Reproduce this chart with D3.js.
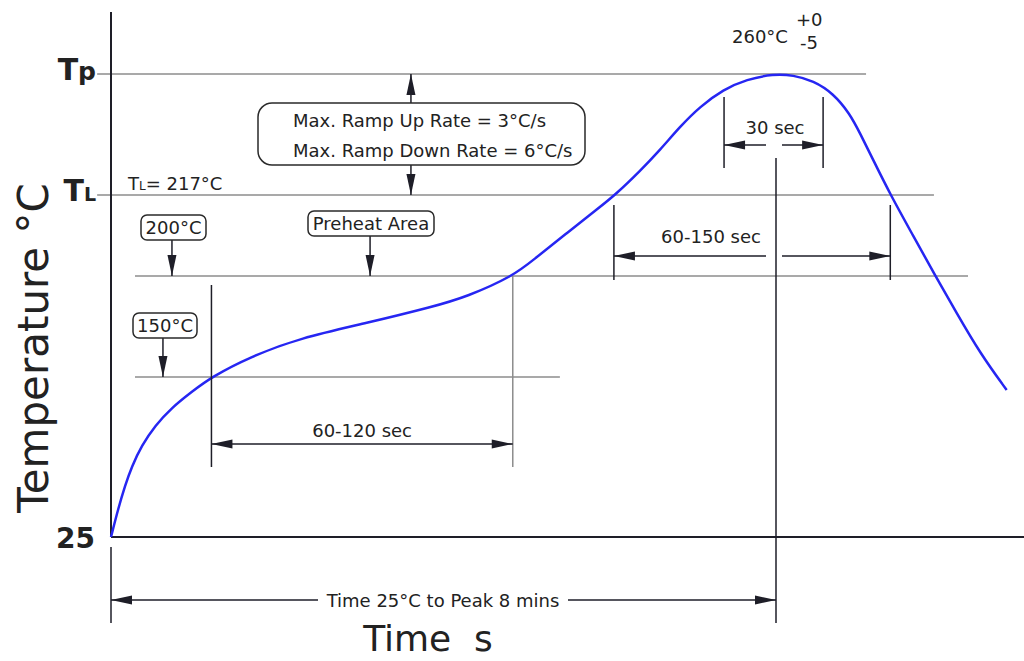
<!DOCTYPE html>
<html lang="en">
<head>
<meta charset="UTF-8">
<title>Reflow Profile</title>
<script src="https://d3js.org/d3.v7.min.js"></script>
<style>
  body { margin: 0; background: #fff; }
  svg text { font-family: "DejaVu Sans", sans-serif; fill: #222; }
  .guide { stroke: #8c8c8c; stroke-width: 1.5; fill: none; }
  .dim { stroke: #1e1e28; stroke-width: 1.5; fill: none; }
  .axis-line { stroke: #1e1e28; stroke-width: 2; }
  .note-box { fill: #fff; stroke: #2a2a2a; stroke-width: 1.5; }
  .note { font-size: 18px; }
</style>
</head>
<body>
<svg id="chart"></svg>
<script>
// profile curve: time (s) and temperature (°C)
const profileTime = [0, 5.3, 10.1, 14.9, 22.2, 31.8, 43.8, 58.2, 72.5, 100.4, 136.5, 184.6, 232.5, 256.8, 290.3,
    304.9, 329, 353, 363.8, 381.8, 396.3, 410.7, 425.1, 442, 458.9, 478.1, 492.5, 506.9, 521.4, 533.4, 540.6, 550.2,
    562.7, 579.1, 594.7, 610.4, 627.2, 646.5];
const profileTemp = [25, 47.5, 65, 79.8, 96.5, 112, 126, 138.4, 150, 160, 169.3, 176.7, 184.8, 189.7, 200,
    203.4, 209, 214.5, 217, 225.5, 233, 241.3, 248.4, 254.5, 258.1, 260, 259.6, 257.6, 253.1, 245.8, 239, 229.4,
    217, 208.4, 200.2, 181.7, 161.9, 139.8];

// temperature levels of the drawing (not to scale)
const levelTemps = [25, 150, 200, 217, 260];

// time marks (s)
const soakSpan = [72.5, 290];        // 150 -> 200 °C, 60-120 sec
const liquidusSpan = [363, 562.5];   // above TL, 60-150 sec
const peakSpan = [442.5, 514];       // within 5 °C of peak, 30 sec
const peakTime = 480;                // 8 mins from 25 °C

const width = 1024, height = 661;

const svg = d3.select("#chart")
    .attr("width", width)
    .attr("height", height);

const x = d3.scaleLinear().domain([0, peakTime]).range([111, 776]);
// piecewise scale, the levels are drawn as a sketch
const y = d3.scaleLinear().domain(levelTemps).range([537, 377, 276, 195, 74]);

const defs = svg.append("defs");
defs.append("marker")
    .attr("id", "head")
    .attr("viewBox", "-22 -5 23 10")
    .attr("refX", 0).attr("refY", 0)
    .attr("markerWidth", 23).attr("markerHeight", 10)
    .attr("markerUnits", "userSpaceOnUse")
    .attr("orient", "auto-start-reverse")
    .append("path")
    .attr("d", "M0,0L-21,-4.5L-21,4.5Z")
    .attr("fill", "#1e1e28");

function seg(x1, y1, x2, y2, cls) {
    return svg.append("line")
        .attr("x1", x1).attr("y1", y1).attr("x2", x2).attr("y2", y2)
        .attr("class", cls);
}

// level guides
seg(x(-10), y(260), x(545), y(260), "guide");
seg(x(-10), y(217), x(594), y(217), "guide");
seg(x(17.3), y(200), x(618.6), y(200), "guide");
seg(x(17.3), y(150), x(324), y(150), "guide");

// axes
seg(x(0), 12, x(0), y(25), "axis-line");
seg(x(0), y(25), width, y(25), "axis-line");

// profile
const line = d3.line()
    .x(d => x(d[0]))
    .y(d => y(d[1]))
    .curve(d3.curveBasis);

svg.append("path")
    .datum(d3.zip(profileTime, profileTemp))
    .attr("d", line)
    .attr("fill", "none")
    .attr("stroke", "#2626f2")
    .attr("stroke-width", 2.5);

// axis labels on the left
const big = svg.append("g").attr("font-weight", "bold");
let t = big.append("text").attr("x", 96).attr("y", y(260) + 6).attr("text-anchor", "end");
t.append("tspan").attr("font-size", 30).text("T");
t.append("tspan").attr("font-size", 25).text("p");
t = big.append("text").attr("x", 96).attr("y", y(217) + 6).attr("text-anchor", "end");
t.append("tspan").attr("font-size", 30).text("T");
t.append("tspan").attr("font-size", 19).text("L");
big.append("text").attr("x", 95).attr("y", y(25) + 11).attr("text-anchor", "end")
    .attr("font-size", 28).text("25");

t = svg.append("text").attr("class", "note").attr("x", 128).attr("y", y(217) - 5);
t.append("tspan").text("T");
t.append("tspan").attr("font-size", 12).text("L");
t.append("tspan").text("= 217°C");

// peak label
svg.append("text").attr("class", "note").attr("x", 732).attr("y", 43).text("260°C");
svg.append("text").attr("class", "note").attr("font-size", 16).attr("x", 796).attr("y", 26).text("+0");
svg.append("text").attr("class", "note").attr("font-size", 16).attr("x", 800).attr("y", 49).text("-5");

// ramp rate box with arrows to Tp and TL
const bx = x(216.5);
seg(bx, 103, bx, y(260), "dim").attr("marker-end", "url(#head)");
seg(bx, 165, bx, y(217), "dim").attr("marker-end", "url(#head)");
svg.append("rect").attr("class", "note-box")
    .attr("x", 258).attr("y", 103).attr("width", 327).attr("height", 62).attr("rx", 14);
svg.append("text").attr("class", "note").attr("x", 293).attr("y", 127).text("Max. Ramp Up Rate = 3°C/s");
svg.append("text").attr("class", "note").attr("x", 293).attr("y", 157).text("Max. Ramp Down Rate = 6°C/s");

// small callouts
function callout(label, cx, top, w, ax, toTemp) {
    seg(ax, top + 25, ax, y(toTemp), "dim").attr("marker-end", "url(#head)");
    svg.append("rect").attr("class", "note-box")
        .attr("x", cx - w / 2).attr("y", top).attr("width", w).attr("height", 25).attr("rx", 6);
    svg.append("text").attr("class", "note").attr("x", cx).attr("y", top + 19)
        .attr("text-anchor", "middle").text(label);
}
callout("Preheat Area", 371, 211, 126, x(187), 200);
callout("200°C", 173.5, 215, 65, x(44), 200);
callout("150°C", 165, 313, 64, x(37.5), 150);

// 60-120 sec
seg(x(soakSpan[0]), 285, x(soakSpan[0]), 467, "dim");
seg(x(soakSpan[1]), y(200), x(soakSpan[1]), 467, "guide");
seg(x(soakSpan[0]), 444, x(soakSpan[1]), 444, "dim")
    .attr("marker-start", "url(#head)").attr("marker-end", "url(#head)");
svg.append("text").attr("class", "note").attr("x", x((soakSpan[0] + soakSpan[1]) / 2)).attr("y", 437)
    .attr("text-anchor", "middle").text("60-120 sec");

// 60-150 sec
seg(x(liquidusSpan[0]), 205, x(liquidusSpan[0]), 280, "dim");
seg(x(liquidusSpan[1]), 205, x(liquidusSpan[1]), 280, "dim");
seg(x(peakTime) - 10, 256, x(liquidusSpan[0]), 256, "dim").attr("marker-end", "url(#head)");
seg(x(peakTime) + 6, 256, x(liquidusSpan[1]), 256, "dim").attr("marker-end", "url(#head)");
svg.append("text").attr("class", "note").attr("x", 711).attr("y", 243)
    .attr("text-anchor", "middle").text("60-150 sec");

// 30 sec
seg(x(peakSpan[0]), 97, x(peakSpan[0]), 168, "dim");
seg(x(peakSpan[1]), 97, x(peakSpan[1]), 168, "dim");
seg(x(peakTime) - 10, 145, x(peakSpan[0]), 145, "dim").attr("marker-end", "url(#head)");
seg(x(peakTime) + 6, 145, x(peakSpan[1]), 145, "dim").attr("marker-end", "url(#head)");
svg.append("text").attr("class", "note").attr("x", 775).attr("y", 134)
    .attr("text-anchor", "middle").text("30 sec");

// peak time line and total time
seg(x(peakTime), 158, x(peakTime), 623, "dim");
seg(x(0), 547, x(0), 623, "dim");
seg(x(0), 600, 318, 600, "dim").attr("marker-start", "url(#head)");
seg(568, 600, x(peakTime), 600, "dim").attr("marker-end", "url(#head)");
svg.append("text").attr("class", "note").attr("x", 443).attr("y", 607)
    .attr("text-anchor", "middle").text("Time 25°C to Peak 8 mins");

// axis titles
svg.append("text")
    .attr("transform", "translate(48,348) rotate(-90)")
    .attr("text-anchor", "middle")
    .attr("font-size", 42)
    .text("Temperature °C");
svg.append("text")
    .attr("x", 428).attr("y", 651)
    .attr("text-anchor", "middle")
    .attr("font-size", 36)
    .style("white-space", "pre")
    .text("Time  s");
</script>
</body>
</html>
